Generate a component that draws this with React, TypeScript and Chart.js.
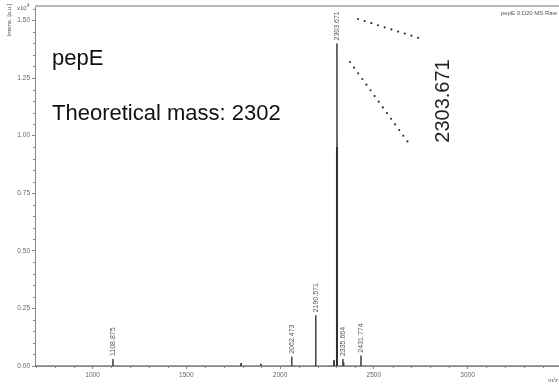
import React, { useEffect, useRef } from "react";
import { Chart, registerables } from "chart.js";

Chart.register(...registerables);

// ---- data (intensity in units of 10^4 a.u.) ----
const xTickValues = [1000, 1500, 2000, 2500, 3000];
const yTickValues = [0, 0.25, 0.5, 0.75, 1.0, 1.25, 1.5];
const xRange = [693, 3488];
const yRange = [0, 1.563];

const peakMz = [1108.875, 2062.473, 2190.571, 2303.671, 2335.664, 2431.774];
const peakIntensity = [0.03, 0.04, 0.22, 1.4, 0.03, 0.045];
const peakLabels = ["1108.875", "2062.473", "2190.571", "2303.671", "2335.664", "2431.774"];

const smallMz = [1792, 1898, 2288, 2340];
const smallIntensity = [0.012, 0.01, 0.025, 0.015];

const coreMz = [2303.671];
const coreIntensity = [0.95];

const FONT = "'Liberation Sans', Arial, sans-serif";

function buildSpectrum() {
  const spikes: { x: number; y: number }[] = [];
  peakMz.forEach((m, i) => spikes.push({ x: m, y: peakIntensity[i] }));
  smallMz.forEach((m, i) => spikes.push({ x: m, y: smallIntensity[i] }));
  spikes.sort((a, b) => a.x - b.x);
  const pts: { x: number; y: number }[] = [{ x: xRange[0], y: 0 }];
  spikes.forEach((p) => {
    pts.push({ x: p.x - 0.6, y: 0 });
    pts.push({ x: p.x, y: p.y });
    pts.push({ x: p.x + 0.6, y: 0 });
  });
  pts.push({ x: xRange[1], y: 0 });
  return pts;
}

function buildCore() {
  const pts: { x: number; y: number }[] = [];
  coreMz.forEach((m, i) => {
    pts.push({ x: m, y: 0 });
    pts.push({ x: m, y: coreIntensity[i] });
  });
  return pts;
}

const decorPlugin = {
  id: "decor",
  afterDraw(chart: any) {
    const ctx = chart.ctx as CanvasRenderingContext2D;
    const xs = chart.scales.x;
    const ys = chart.scales.y;
    const area = chart.chartArea;
    ctx.save();

    // top border
    ctx.strokeStyle = "#b8b8b8";
    ctx.lineWidth = 2;
    ctx.beginPath();
    ctx.moveTo(area.left, area.top);
    ctx.lineTo(area.right, area.top);
    ctx.stroke();

    // minor ticks
    ctx.strokeStyle = "#888";
    ctx.lineWidth = 1;
    ctx.beginPath();
    for (let v = 700; v <= xRange[1]; v += 100) {
      if (v % 500 === 0) continue;
      const px = Math.round(xs.getPixelForValue(v)) + 0.5;
      ctx.moveTo(px, area.bottom);
      ctx.lineTo(px, area.bottom + 2);
    }
    for (let k = 1; k * 0.05 <= yRange[1]; k++) {
      if (k % 5 === 0) continue;
      const py = Math.round(ys.getPixelForValue(k * 0.05)) + 0.5;
      ctx.moveTo(area.left, py);
      ctx.lineTo(area.left - 2, py);
    }
    ctx.stroke();

    // peak labels
    ctx.fillStyle = "#555";
    ctx.font = `7px ${FONT}`;
    peakMz.forEach((m, i) => {
      const px = xs.getPixelForValue(m);
      const py = ys.getPixelForValue(peakIntensity[i]);
      ctx.save();
      ctx.translate(px, py - 3);
      ctx.rotate(-Math.PI / 2);
      ctx.textAlign = "left";
      ctx.textBaseline = "middle";
      ctx.fillText(peakLabels[i], 0, 0);
      ctx.restore();
    });

    // annotations
    ctx.fillStyle = "#111";
    ctx.font = `22px ${FONT}`;
    ctx.textAlign = "left";
    ctx.textBaseline = "alphabetic";
    ctx.fillText("pepE", 52, 65);
    ctx.fillText("Theoretical mass: 2302", 52, 120);

    ctx.save();
    ctx.translate(443, 101);
    ctx.rotate(-Math.PI / 2);
    ctx.textAlign = "center";
    ctx.textBaseline = "middle";
    ctx.font = `20px ${FONT}`;
    ctx.fillStyle = "#222";
    ctx.fillText(peakLabels[3], 0, 0);
    ctx.restore();

    // dotted leader lines
    ctx.strokeStyle = "#333";
    ctx.lineWidth = 2.2;
    ctx.lineCap = "round";
    ctx.setLineDash([0, 7]);
    ctx.beginPath();
    ctx.moveTo(358, 19);
    ctx.lineTo(422, 39);
    ctx.moveTo(350, 62);
    ctx.lineTo(410, 145);
    ctx.stroke();
    ctx.setLineDash([]);

    // small texts
    ctx.fillStyle = "#555";
    ctx.font = `6px ${FONT}`;
    ctx.textAlign = "right";
    ctx.textBaseline = "middle";
    ctx.fillText("pepE 0:D20 MS Raw", 557, 13);
    ctx.fillText("m/z", 558, 380);

    ctx.textAlign = "left";
    ctx.fillText("x10", 17, 8);
    ctx.font = `4.5px ${FONT}`;
    ctx.fillText("4", 27, 5.5);

    ctx.save();
    ctx.translate(9, 20);
    ctx.rotate(-Math.PI / 2);
    ctx.textAlign = "center";
    ctx.font = `6px ${FONT}`;
    ctx.fillText("Intens. [a.u.]", 0, 0);
    ctx.restore();

    ctx.restore();
  },
};

export default function App() {
  const ref = useRef<HTMLCanvasElement | null>(null);
  useEffect(() => {
    if (!ref.current) return;
    const chart = new Chart(ref.current, {
      type: "scatter",
      data: {
        datasets: [
          {
            data: buildSpectrum(),
            showLine: true,
            borderColor: "#3a3a3a",
            borderWidth: 1,
            pointRadius: 0,
            tension: 0,
          },
          {
            data: buildCore(),
            showLine: true,
            borderColor: "#111",
            borderWidth: 2,
            pointRadius: 0,
            tension: 0,
          },
        ],
      },
      options: {
        responsive: false,
        animation: false,
        layout: { padding: { top: 5, left: 0, right: 0, bottom: 0 } },
        plugins: { legend: { display: false }, tooltip: { enabled: false } },
        scales: {
          x: {
            type: "linear",
            min: xRange[0],
            max: xRange[1],
            afterBuildTicks: (s: any) => {
              s.ticks = xTickValues.map((v) => ({ value: v }));
            },
            afterFit: (s: any) => {
              s.height = 22;
            },
            ticks: {
              autoSkip: false,
              maxRotation: 0,
              padding: 2,
              color: "#666",
              font: { size: 6.5, family: FONT },
              callback: (v: any) => String(v),
            },
            grid: { display: true, drawOnChartArea: false, tickLength: 3, color: "#888" },
            border: { color: "#888", width: 1 },
          },
          y: {
            type: "linear",
            min: yRange[0],
            max: yRange[1],
            afterBuildTicks: (s: any) => {
              s.ticks = yTickValues.map((v) => ({ value: v }));
            },
            afterFit: (s: any) => {
              s.width = 35;
            },
            ticks: {
              autoSkip: false,
              padding: 2,
              color: "#666",
              font: { size: 6.5, family: FONT },
              callback: (v: any) => Number(v).toFixed(2),
            },
            grid: { display: true, drawOnChartArea: false, tickLength: 3, color: "#888" },
            border: { color: "#888", width: 1 },
          },
        },
      },
      plugins: [decorPlugin],
    });
    return () => chart.destroy();
  }, []);
  return (
    <div style={{ position: "fixed", left: 0, top: 0, width: 559, height: 388, background: "#fff" }}>
      <canvas ref={ref} width={559} height={388} />
    </div>
  );
}
